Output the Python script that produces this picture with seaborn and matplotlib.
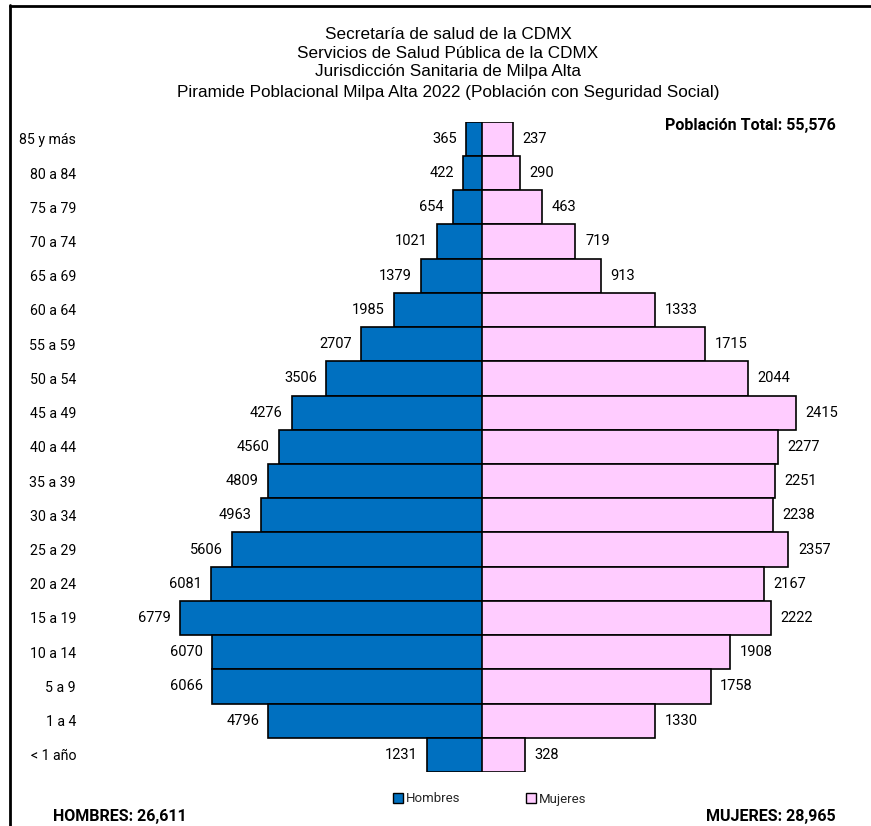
import matplotlib
matplotlib.use("Agg")
import matplotlib.pyplot as plt
from matplotlib.patches import Patch
from matplotlib.lines import Line2D
import seaborn as sns
import pandas as pd

# Population by age group (Milpa Alta 2022, population with social security)
grupos = ["85 y más", "80 a 84", "75 a 79", "70 a 74", "65 a 69", "60 a 64",
          "55 a 59", "50 a 54", "45 a 49", "40 a 44", "35 a 39", "30 a 34",
          "25 a 29", "20 a 24", "15 a 19", "10 a 14", "5 a 9", "1 a 4", "< 1 año"]
hombres = [365, 422, 654, 1021, 1379, 1985, 2707, 3506, 4276, 4560, 4809, 4963,
           5606, 6081, 6779, 6070, 6066, 4796, 1231]
mujeres = [237, 290, 463, 719, 913, 1333, 1715, 2044, 2415, 2277, 2251, 2238,
           2357, 2167, 2222, 1908, 1758, 1330, 328]

titulo = ["Secretaría de salud de la CDMX",
          "Servicios de Salud Pública de la CDMX",
          "Jurisdicción Sanitaria de Milpa Alta",
          "Piramide Poblacional Milpa Alta 2022 (Población con Seguridad Social)"]
texto_total = "Población Total: 55,576"
texto_hombres = "HOMBRES: 26,611"
texto_mujeres = "MUJERES: 28,965"

sns.set_theme(style="white")
plt.rcParams["font.family"] = ["Roboto", "DejaVu Sans"]
title_font = ["Liberation Sans", "DejaVu Sans"]

W, H = 871, 826
fig = plt.figure(figsize=(W / 100, H / 100), dpi=100)
fig.patch.set_facecolor("white")


def fx(px):
    return px / W


def fy(py):
    return 1 - py / H


cx = 482
top, bot = 121.7, 772.0
axL = fig.add_axes([fx(90), fy(bot), fx(cx - 90), (bot - top) / H])
axR = fig.add_axes([fx(cx), fy(bot), fx(860 - cx), (bot - top) / H])

df = pd.DataFrame({"grupo": grupos, "Hombres": hombres, "Mujeres": mujeres})
azul = "#0070C0"
rosa = "#FFCCFF"

sns.barplot(data=df, x="Hombres", y="grupo", orient="h", ax=axL, color=azul,
            edgecolor="black", linewidth=1.2, width=1.0, saturation=1)
sns.barplot(data=df, x="Mujeres", y="grupo", orient="h", ax=axR, color=rosa,
            edgecolor="black", linewidth=1.2, width=1.0, saturation=1)

# each side on its own scale, meeting at the centre line
axL.set_xlim(392 * 6779 / 302, 0)
axR.set_xlim(0, 378 * 2415 / 314)

for ax in (axL, axR):
    ax.set_ylim(len(grupos) - 0.5, -0.5)
    ax.set_xlabel("")
    ax.set_ylabel("")
    ax.set_xticks([])
    ax.set_facecolor("none")
    for sp in ax.spines.values():
        sp.set_visible(False)
axR.set_yticks([])
axL.tick_params(axis="y", length=0, pad=10, labelsize=10.2, labelcolor="black")

axL.bar_label(axL.containers[0], labels=[str(v) for v in hombres],
              padding=6.5, fontsize=10.5, color="black")
axR.bar_label(axR.containers[0], labels=[str(v) for v in mujeres],
              padding=7, fontsize=10.5, color="black")

# title block
for txt, base in zip(titulo, [39, 58, 76, 97]):
    fig.text(fx(448), fy(base), txt, ha="center", va="baseline",
             fontsize=12.3, family=title_font, color="black")

fig.text(fx(836), fy(130), texto_total, ha="right", va="baseline",
         fontsize=11.5, fontweight="bold", color="black")
fig.text(fx(53), fy(821.5), texto_hombres, ha="left", va="baseline",
         fontsize=11.5, fontweight="bold", color="black")
fig.text(fx(836), fy(821), texto_mujeres, ha="right", va="baseline",
         fontsize=11.5, fontweight="bold", color="black")

fig.legend(handles=[Patch(facecolor=azul, edgecolor="black", label="Hombres"),
                    Patch(facecolor=rosa, edgecolor="black", label="Mujeres")],
           loc="center", bbox_to_anchor=(fx(490), fy(799)), ncol=2,
           frameon=False, handlelength=0.7, handleheight=0.7,
           handletextpad=0.25, columnspacing=5.0, fontsize=9.5)

# frame lines
fig.add_artist(Line2D([fx(10), fx(10)], [0, fy(5)], color="black", lw=2,
                      transform=fig.transFigure))
fig.add_artist(Line2D([fx(10), 1], [fy(6), fy(6)], color="black", lw=2,
                      transform=fig.transFigure))

fig.savefig("out.png", dpi=100, facecolor="white")
